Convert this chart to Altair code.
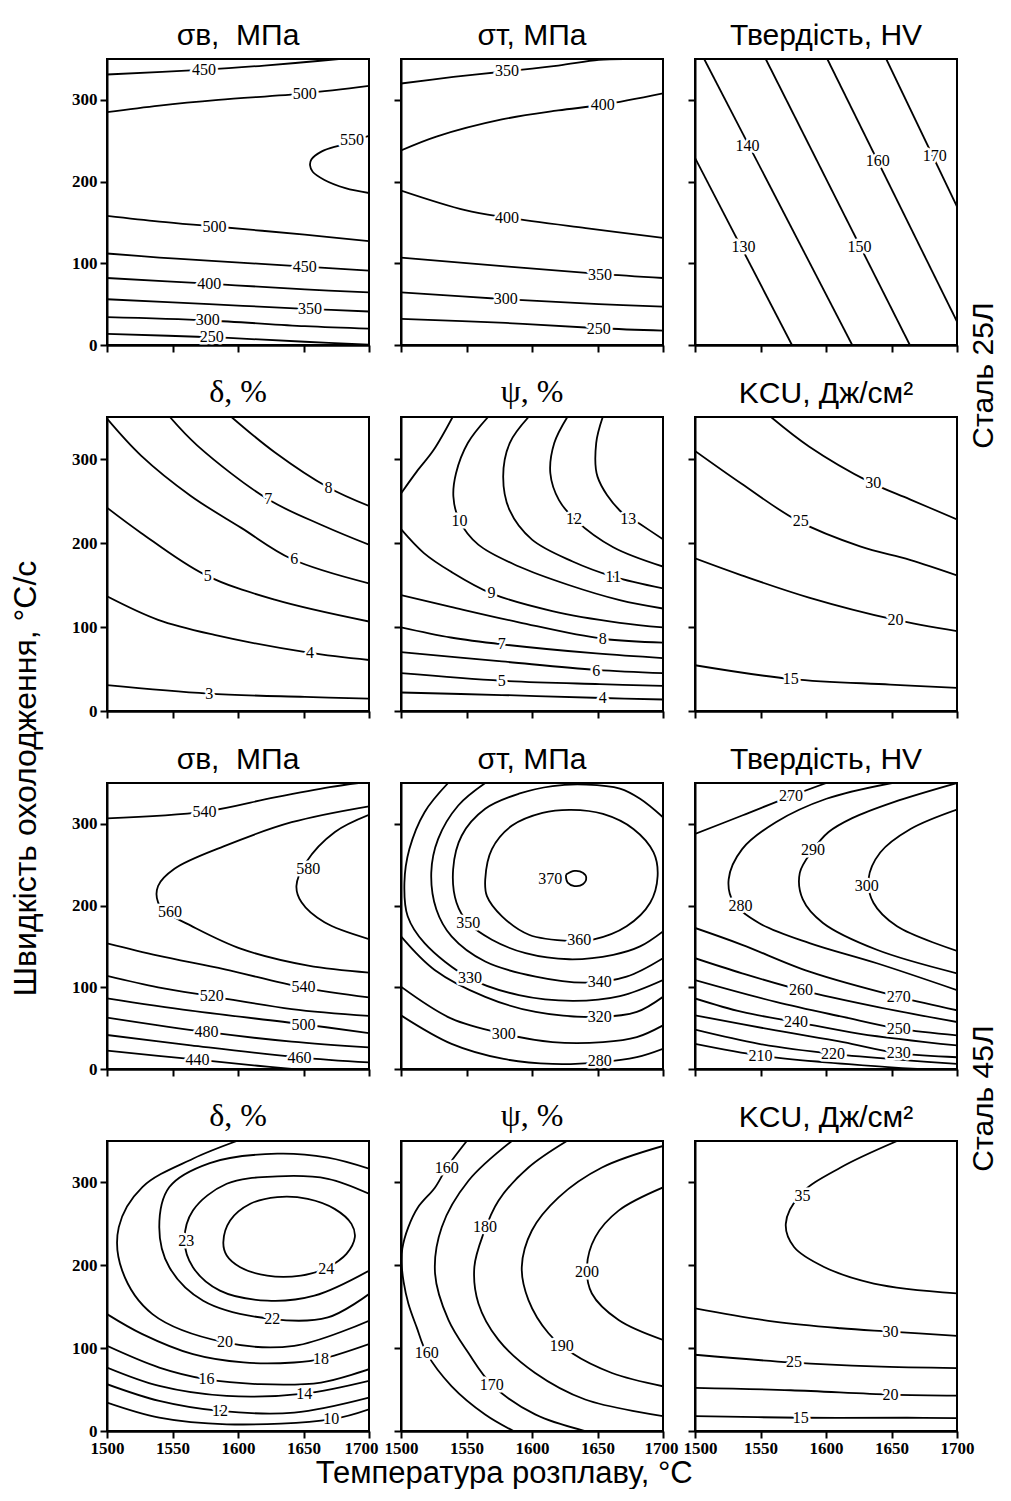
import altair as alt
import pandas as pd

SANS = "Liberation Sans"
SERIF = "Liberation Serif"

X_DOMAIN = [1500, 1700]
Y_DOMAIN = [0, 350]
X_TICKS = [1500, 1550, 1600, 1650, 1700]
Y_TICKS = [0, 100, 200, 300]

X_TITLE = "Температура розплаву, °C"
Y_TITLE = "Швидкість охолодження, °C/с"
GROUP_TITLES = ["Сталь 25Л", "Сталь 45Л"]

TITLES_A = ["σв,\u00a0 МПа", "σт, МПа", "Твердість, HV"]
TITLES_B = ["δ, %", "ψ, %", "KCU, Дж/см²"]

# ---------------- Сталь 25Л ----------------
SB25_LINES = [
    (450, [(1500, 331), (1575, 337), (1620, 342), (1650, 346), (1677, 350)]),
    (500, [(1500, 285), (1540, 293), (1585, 300), (1651, 308), (1700, 317)]),
    (550, [(1700, 256), (1679, 245), (1664, 237), (1656, 227), (1655, 220), (1657, 212), (1666, 202), (1682, 192), (1700, 186)]),
    (500, [(1500, 158), (1540, 151), (1582, 145), (1651, 135), (1700, 127)]),
    (450, [(1500, 112), (1540, 107), (1580, 103), (1651, 96), (1700, 91)]),
    (400, [(1500, 82), (1578, 75), (1651, 68), (1700, 64.5)]),
    (350, [(1500, 56), (1578, 50), (1655, 44), (1700, 41)]),
    (300, [(1500, 34), (1577, 30), (1651, 23), (1700, 20)]),
    (250, [(1500, 13.5), (1580, 9.5), (1651, 4), (1700, 0.5)]),
]
SB25_LABELS = [(450, 1574, 337), (500, 1651, 307), (550, 1687, 251), (500, 1582, 144), (450, 1651, 96),
               (400, 1578, 75), (350, 1655, 44.5), (300, 1577, 30), (250, 1580, 9.5)]

ST25_LINES = [
    (350, [(1500, 320), (1540, 328), (1581, 335), (1620, 342), (1651, 349), (1670, 350)]),
    (400, [(1500, 238), (1527, 255), (1577, 276), (1620, 287), (1654, 294), (1700, 308)]),
    (400, [(1500, 189), (1549, 165), (1581, 156), (1641, 143), (1700, 131)]),
    (350, [(1500, 107), (1582, 96), (1651, 87), (1700, 82)]),
    (300, [(1500, 64.5), (1580, 56), (1651, 50), (1700, 47)]),
    (250, [(1500, 32), (1580, 27), (1651, 20.5), (1700, 17.5)]),
]
ST25_LABELS = [(350, 1581, 335), (400, 1654, 294), (400, 1581, 156), (350, 1652, 86), (300, 1580, 56), (250, 1651, 20)]

HV25_LINES = [
    (130, [(1500, 229), (1574, 0)]),
    (140, [(1507, 350), (1620, 0)]),
    (150, [(1554, 350), (1664, 0)]),
    (160, [(1601, 350), (1700, 28.6)]),
    (170, [(1646, 350), (1700, 169.5)]),
]
HV25_LABELS = [(140, 1540, 243), (130, 1537, 120.5), (160, 1639.5, 224.6), (150, 1625.5, 120.5), (170, 1683, 230.7)]

D25_LINES = [
    (3, [(1500, 30.7), (1577, 20.7), (1651, 16.8), (1700, 14.8)]),
    (4, [(1500, 136.5), (1539, 108.5), (1582, 90.6), (1654, 69.4), (1700, 60.7)]),
    (5, [(1500, 242), (1526, 212), (1574.5, 162.4), (1628, 132.5), (1700, 106.5)]),
    (6, [(1500, 348), (1526, 304), (1564, 256), (1602.5, 218), (1641, 181), (1700, 152)]),
    (7, [(1548, 350), (1569, 316), (1623, 252), (1666, 220), (1700, 198)]),
    (8, [(1595, 350), (1628, 308), (1669, 266), (1700, 244)]),
]
D25_LABELS = [(3, 1578, 20), (4, 1655, 68.6), (5, 1577, 161), (6, 1643, 181), (7, 1623, 252), (8, 1669, 266)]

PSI25_LINES = [
    (4, [(1500, 22), (1577, 19), (1654, 15.5), (1700, 13.7)]),
    (5, [(1500, 45), (1577, 36), (1651.5, 32), (1700, 30)]),
    (6, [(1500, 70), (1577, 59), (1649, 49), (1700, 45)]),
    (7, [(1500, 99.6), (1538, 87.5), (1577, 79.4), (1649, 68.5), (1700, 63)]),
    (8, [(1500, 138), (1538, 124), (1590, 105.6), (1654, 86), (1700, 81.5)]),
    (9, [(1539.4, 350), (1525, 311), (1512, 285), (1500, 259)]),
    (9, [(1500, 216.5), (1517.5, 188), (1538, 166), (1569, 140), (1615.5, 119), (1667, 105), (1700, 99.6)]),
    (10, [(1566.5, 350), (1551, 319), (1542, 283), (1540, 255), (1544.6, 226.6), (1559, 198), (1590, 172), (1628, 150), (1667, 132), (1700, 122)]),
    (11, [(1597.4, 350), (1583, 319), (1578, 279), (1583, 238.7), (1600, 204), (1631, 178), (1662, 160), (1700, 146)]),
    (12, [(1627, 350), (1617, 319), (1614, 283), (1620.6, 251), (1633.5, 227), (1662, 195), (1700, 172)]),
    (13, [(1654, 350), (1649, 319), (1650, 279), (1667, 238.7), (1682.5, 222.6), (1700, 204.4)]),
]
PSI25_LABELS = [(10, 1544.6, 226), (12, 1632, 229), (13, 1673.5, 229), (11, 1662, 160), (9, 1569, 140),
                (8, 1654, 86), (7, 1577, 79.4), (6, 1649, 48), (5, 1577, 36), (4, 1654, 15.5)]

KCU25_LINES = [
    (15, [(1500, 54.5), (1574, 38), (1649, 31.5), (1700, 27.5)]),
    (20, [(1500, 181.7), (1535.6, 161.5), (1587, 135), (1651.5, 109), (1700, 95)]),
    (25, [(1500, 309.6), (1535.6, 270.5), (1579, 226), (1626, 196), (1664, 180), (1700, 161.5)]),
    (30, [(1558, 350), (1587, 315), (1633.5, 272.5), (1664, 252), (1700, 228)]),
]
KCU25_LABELS = [(30, 1636, 271), (25, 1580.7, 226), (20, 1653, 108), (15, 1573, 38)]

# ---------------- Сталь 45Л ----------------
SB45_LINES = [
    (540, [(1500, 306.8), (1574.5, 315), (1628, 332.5), (1670, 345), (1692, 350)]),
    (560, [(1700, 321.5), (1641, 302), (1590, 273), (1551.5, 245), (1539, 224), (1539, 204), (1546.4, 191), (1564, 175.4), (1602.5, 147), (1653.6, 126.5), (1700, 118)]),
    (580, [(1700, 311), (1674, 290), (1652, 253), (1644.6, 224), (1648.5, 204), (1666, 179.5), (1700, 159)]),
    (540, [(1500, 153.8), (1539, 138.7), (1590, 122), (1648.5, 100), (1700, 87.7)]),
    (520, [(1500, 114), (1539, 100), (1580, 89), (1641, 73.4), (1700, 65)]),
    (500, [(1500, 86.5), (1564, 71.4), (1648.5, 55), (1700, 44)]),
    (480, [(1500, 63), (1577, 45), (1641, 33.5), (1700, 26.5)]),
    (460, [(1500, 41.6), (1564, 29), (1646, 14.3), (1700, 8)]),
    (440, [(1500, 22.4), (1569, 11.4), (1615, 4), (1641, 0)]),
]
SB45_LABELS = [(540, 1574.5, 315), (560, 1548, 192), (580, 1653.6, 245), (540, 1650, 100), (520, 1580, 89),
               (500, 1650, 54), (480, 1576, 45), (460, 1647, 14), (440, 1569, 11.4)]

ST45_LINES = [
    (370, [(1626, 238), (1632.4, 242.4), (1638.8, 240.3), (1641.4, 234.2), (1638.8, 226), (1632.4, 223.9), (1627.2, 228), (1626, 234), (1626, 238)]),
    (360, [(1630, 156.5), (1597.7, 164.3), (1577.1, 186.9), (1565.6, 211.6), (1564.3, 232.1), (1569.4, 269.1), (1584.8, 297.9), (1608, 313.5),
           (1629.8, 317.2), (1654.2, 312.2), (1677.4, 293.8), (1692.8, 265), (1695.9, 236.2), (1690.2, 203.4), (1672.2, 174.6), (1646.5, 158.2), (1630, 156.5)]),
    (350, [(1700, 308.1), (1682.5, 330.7), (1667.1, 343.1), (1641.4, 348), (1615.7, 346.3), (1590, 336.9), (1564.3, 318.4), (1546.3, 285.5), (1539.8, 244.5),
           (1542.4, 203.4), (1551.4, 178.7), (1569.4, 158.2), (1595.1, 141.7), (1628.5, 134.3), (1662, 139.7), (1682.5, 150), (1700, 168.4)]),
    (340, [(1564.3, 350), (1543.7, 322.5), (1528.3, 281.4), (1523.1, 240.3), (1527, 195.2), (1538.6, 162.3), (1564.3, 131.5), (1602.8, 113), (1641.4, 105.6), (1672.2, 113), (1700, 135.6)]),
    (330, [(1536, 350), (1518, 314.3), (1506.4, 269.1), (1502.6, 228), (1505.1, 187), (1518, 154.1), (1552.7, 110.9), (1590, 90.4), (1631.1, 83.4), (1667.1, 89.2), (1700, 108.9)]),
    (320, [(1500, 162.3), (1525.7, 121.2), (1564.3, 88.3), (1602.8, 69.8), (1651.7, 63.7), (1680, 69.8), (1700, 88.3)]),
    (300, [(1500, 100.7), (1538.6, 61.6), (1578.4, 43.1), (1615.7, 32.9), (1654.2, 32.9), (1680, 39), (1700, 53.4)]),
    (280, [(1500, 65.7), (1538.6, 30.8), (1578.4, 12.3), (1615.7, 6.2), (1651.7, 8.2), (1680, 14.4), (1700, 24.7)]),
]
ST45_LABELS = [(370, 1614, 232), (360, 1636, 158), (350, 1551.4, 178.7), (340, 1651.7, 106.8), (330, 1552.7, 110.9),
               (320, 1651.7, 63.7), (300, 1578.4, 43.1), (280, 1651.7, 9.4)]

HV45_LINES = [
    (270, [(1500, 287.6), (1536, 310.2), (1573.3, 334), (1600.3, 350)]),
    (280, [(1650.4, 350), (1600.3, 330.7), (1561.7, 302), (1536, 269.1), (1525.7, 232.1), (1529.6, 203.4), (1548.8, 178.7), (1587.4, 154.1), (1638.8, 129.4), (1700, 96.5)]),
    (290, [(1700, 350), (1651.7, 326.6), (1620, 307), (1602, 290), (1590, 268), (1580, 240), (1582.3, 207.5), (1597.7, 178.7), (1638.8, 145.9), (1700, 117.1)]),
    (300, [(1700, 317.6), (1664.5, 293.8), (1641.4, 265), (1632.4, 232.1), (1636.2, 203.4), (1654.2, 174.6), (1700, 144.6)]),
    (270, [(1500, 172.6), (1536, 152), (1587.4, 119.1), (1655.5, 88.3), (1700, 71.9)]),
    (260, [(1500, 135.6), (1536, 117.1), (1581, 96.5), (1638.8, 76), (1700, 57.5)]),
    (250, [(1500, 108.9), (1561.7, 82.2), (1613.1, 63.7), (1655.5, 49.3), (1700, 41.1)]),
    (240, [(1500, 86.3), (1536, 69.8), (1577.1, 57.5), (1626, 43.1), (1700, 28.8)]),
    (230, [(1500, 65.7), (1561.7, 47.2), (1613.1, 32.9), (1655.5, 19.3), (1700, 14.4)]),
    (220, [(1500, 48.1), (1548.8, 30.8), (1605.4, 18.5), (1664.5, 10.3), (1700, 6.2)]),
    (210, [(1500, 30.8), (1550, 16.4), (1600, 8.2), (1669.7, 0)]),
]
HV45_LABELS = [(270, 1573.3, 334), (290, 1590, 268), (300, 1631.1, 224), (280, 1534.7, 200), (260, 1581, 96.5),
               (270, 1655.5, 88.3), (240, 1577.1, 57.5), (250, 1655.5, 49.3), (210, 1550, 16.4), (220, 1605.4, 18.5), (230, 1655.5, 19.3)]

D45_LINES = [
    (24, [(1667.3, 195.6), (1648, 187.5), (1622.3, 187.5), (1601.7, 197.6), (1591.4, 211.7), (1588.8, 227.8), (1594, 254), (1609.4, 274.2), (1630, 282.3),
          (1653.2, 280.2), (1673.7, 268.1), (1686.6, 250), (1689.2, 233.9), (1682.8, 213.7), (1667.3, 195.6)]),
    (23, [(1700, 286.3), (1668.6, 304.4), (1630, 307.3), (1591.4, 298.4), (1565.6, 266.1), (1559.2, 229.8), (1565.6, 197.6), (1586.2, 169.4), (1622.3, 157.3), (1658.3, 163.3), (1700, 193.5)]),
    (22, [(1700, 316.5), (1668.6, 329.8), (1630, 334.7), (1578.5, 323.4), (1547.6, 294.4), (1539.9, 246), (1547.6, 197.6), (1573.4, 157.3), (1626.1, 135.1), (1668.6, 137.1), (1700, 165.3)]),
    (20, [(1599.1, 350), (1565.6, 328.6), (1527, 294.4), (1509, 246), (1511.6, 193.5), (1534.7, 141.1), (1590.1, 106.9), (1642.9, 102.8), (1700, 133.1)]),
    (18, [(1500, 141.1), (1527, 116.9), (1565.6, 92.7), (1604.2, 82.7), (1642.9, 82.7), (1663.4, 86.7), (1700, 104.8)]),
    (16, [(1500, 102.8), (1539.9, 76.6), (1575.9, 62.5), (1617.1, 56.5), (1663.4, 58.5), (1700, 74.6)]),
    (14, [(1500, 76.6), (1539.9, 54.4), (1591.4, 42.3), (1650.6, 45.2), (1700, 60.5)]),
    (12, [(1500, 56.5), (1539.9, 36.3), (1586.2, 24.2), (1642.9, 22.2), (1700, 40.3)]),
    (10, [(1500, 34.3), (1539.9, 16.1), (1591.4, 8.1), (1671.2, 14.1), (1700, 26.2)]),
]
D45_LABELS = [(23, 1560.5, 229.8), (24, 1667.3, 195.6), (22, 1626.1, 135.1), (20, 1590.1, 106.9), (18, 1663.4, 86.7),
              (16, 1575.9, 62.5), (14, 1650.6, 45.2), (12, 1586.2, 24.2), (10, 1671.2, 14.1)]

PSI45_LINES = [
    (160, [(1550.2, 350), (1535, 318), (1526, 294), (1513, 270), (1505.6, 246), (1501, 220), (1500.5, 202), (1502, 180), (1505.6, 154), (1512, 125),
           (1519.6, 94), (1538.7, 54), (1564.2, 20), (1585.9, 0)]),
    (170, [(1584.6, 350), (1551.5, 302), (1531.1, 246), (1526, 190), (1536.2, 134), (1551.5, 94), (1569.3, 56), (1602.4, 20), (1640.6, 0)]),
    (180, [(1626.6, 350), (1597.3, 318), (1574.4, 278), (1562.9, 238), (1556, 198), (1559.1, 154), (1574.4, 110), (1602.4, 70), (1640.6, 38), (1700, 18)]),
    (190, [(1700, 344), (1653.4, 318), (1620.3, 282), (1599.9, 242), (1592.2, 198), (1597.3, 158), (1612.6, 118), (1630.4, 94), (1661, 70), (1700, 54)]),
    (200, [(1700, 294), (1666.1, 266), (1648.3, 234), (1641.9, 198), (1645.7, 166), (1666.1, 134), (1700, 110)]),
]
PSI45_LABELS = [(160, 1535, 318), (160, 1519.6, 94), (170, 1569.3, 56), (180, 1564.2, 246), (190, 1622.8, 102), (200, 1641.9, 192)]

KCU45_LINES = [
    (35, [(1654.3, 350), (1611.2, 318), (1580.7, 286), (1569.3, 250), (1575.6, 222), (1598.5, 198), (1636.5, 178), (1700, 166)]),
    (30, [(1500, 148), (1560.4, 132), (1611.2, 124), (1649.2, 120), (1700, 114.8)]),
    (25, [(1500, 92), (1573.1, 82.8), (1636.5, 78), (1700, 76)]),
    (20, [(1500, 52), (1573.1, 49.2), (1649.2, 44), (1700, 42.8)]),
    (15, [(1500, 18), (1580.7, 16), (1661.9, 16), (1700, 15.6)]),
]
KCU45_LABELS = [(35, 1582, 284), (30, 1649.2, 120), (25, 1575.6, 82.8), (20, 1649.2, 44), (15, 1580.7, 16)]

ROWS = [
    [(TITLES_A[0], SANS, SB25_LINES, SB25_LABELS), (TITLES_A[1], SANS, ST25_LINES, ST25_LABELS), (TITLES_A[2], SANS, HV25_LINES, HV25_LABELS)],
    [(TITLES_B[0], SERIF, D25_LINES, D25_LABELS), (TITLES_B[1], SERIF, PSI25_LINES, PSI25_LABELS), (TITLES_B[2], SANS, KCU25_LINES, KCU25_LABELS)],
    [(TITLES_A[0], SANS, SB45_LINES, SB45_LABELS), (TITLES_A[1], SANS, ST45_LINES, ST45_LABELS), (TITLES_A[2], SANS, HV45_LINES, HV45_LABELS)],
    [(TITLES_B[0], SERIF, D45_LINES, D45_LABELS), (TITLES_B[1], SERIF, PSI45_LINES, PSI45_LABELS), (TITLES_B[2], SANS, KCU45_LINES, KCU45_LABELS)],
]
ROW_H = [286, 294, 286, 290]
PANEL_W = 262
# steel-grade captions on the right: (row, caption, vertical centre in px from that row's plot top)
GROUP_CAPTIONS = {0: (GROUP_TITLES[0], 316), 2: (GROUP_TITLES[1], 315)}
# small nudges of the end tick labels on the bottom row, per column (value -> px)
END_LABEL_SHIFT = {0: (1700, -8), 1: (1700, -2), 2: (1500, 5)}


def x_axis(show_labels, col):
    kw = dict(values=X_TICKS, labels=show_labels, title=None, grid=False,
              ticks=True, tickSize=7, tickWidth=2, tickColor="black",
              domain=True, domainColor="black", domainWidth=2.5,
              labelFont=SERIF, labelFontSize=17, labelFontWeight="bold",
              labelColor="black", labelFlush=False, labelPadding=2, format="d")
    if show_labels:
        val, shift = END_LABEL_SHIFT[col]
        kw["labelOffset"] = {"condition": {"test": f"datum.value == {val}", "value": shift}, "value": 0}
    return alt.Axis(**kw)


def y_axis(show_labels):
    return alt.Axis(values=Y_TICKS, labels=show_labels, title=None, grid=False,
                    ticks=True, tickSize=7, tickWidth=2, tickColor="black",
                    domain=True, domainColor="black", domainWidth=2,
                    labelFont=SERIF, labelFontSize=17, labelFontWeight="bold",
                    labelColor="black", labelPadding=3, format="d")


def caption_axis(text, ypos):
    return alt.Axis(orient="right", labels=False, ticks=False, domain=False, grid=False,
                    title=text, titleAngle=270, titleX=26, titleY=ypos, titleAlign="center",
                    titleBaseline="middle", titleFont=SANS, titleFontSize=30,
                    titleFontWeight="normal", titleColor="black")


def panel(r, c, title, tfont, lines, labels):
    rows = []
    for i, (lev, pts) in enumerate(lines):
        for j, (t, v) in enumerate(pts):
            rows.append({"line": i, "ord": j, "t": t, "v": v})
    df = pd.DataFrame(rows)
    lab = pd.DataFrame([{"lab": str(l), "t": t, "v": v} for l, t, v in labels])
    xs = alt.Scale(domain=X_DOMAIN, nice=False, zero=False)
    ys = alt.Scale(domain=Y_DOMAIN, nice=False, zero=False)
    xenc = alt.X("t:Q", scale=xs, axis=x_axis(r == 3, c))
    yleft = alt.Y("v:Q", scale=ys, axis=y_axis(c == 0))
    caption = GROUP_CAPTIONS.get(r) if c == 2 else None
    if caption:
        yhalo = alt.Y("v:Q", scale=ys, axis=caption_axis(*caption))
        ytxt = alt.Y("v:Q", scale=ys, axis=None)
    else:
        yhalo = yleft
        ytxt = yleft
    ln = alt.Chart(df).mark_line(color="black", strokeWidth=1.8, interpolate="catmull-rom", clip=True).encode(
        x=xenc, y=yleft, detail="line:N", order="ord:Q")
    halo = alt.Chart(lab).mark_text(font=SERIF, fontSize=16, color="white", stroke="white",
                                    strokeWidth=5, strokeJoin="round").encode(x=xenc, y=yhalo, text="lab:N")
    txt = alt.Chart(lab).mark_text(font=SERIF, fontSize=16, color="black").encode(x=xenc, y=ytxt, text="lab:N")
    tsize = 32 if tfont == SERIF else 30
    ch = alt.layer(ln, halo, txt)
    if caption:
        ch = ch.resolve_axis(y="independent")
    return ch.properties(
        width=PANEL_W, height=ROW_H[r],
        title=alt.TitleParams(title, font=tfont, fontSize=tsize, fontWeight="normal", color="black",
                              offset=8, anchor="middle", frame="group"))


panels = [panel(r, c, t, f, ls, lb) for r in range(4) for c, (t, f, ls, lb) in enumerate(ROWS[r])]
grid = alt.concat(*panels, columns=3, spacing={"row": 72, "column": 32}, bounds="flush")
mid = alt.hconcat(grid, title=alt.TitleParams(Y_TITLE, orient="left", anchor="middle", offset=28, dx=-40,
                                             font=SANS, fontSize=32, fontWeight="normal", color="black"))
chart = alt.vconcat(mid, title=alt.TitleParams(X_TITLE, orient="bottom", anchor="middle", offset=2,
                                               font=SANS, fontSize=31, fontWeight="normal", color="black"))
chart = chart.properties(padding={"left": 1, "top": 12, "right": 0, "bottom": 0}).configure_view(
    stroke="black", strokeWidth=2)

chart.save("out.html", embed_options={"renderer": "svg", "actions": False})
